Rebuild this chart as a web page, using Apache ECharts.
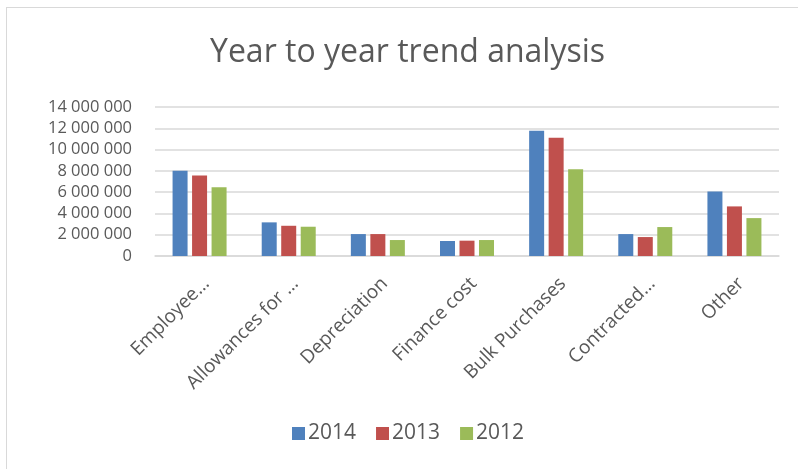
<!DOCTYPE html>
<html>
<head>
<meta charset="utf-8">
<script src="https://cdn.jsdelivr.net/npm/echarts@6/dist/echarts.min.js"></script>
<style>
html,body{margin:0;padding:0;background:#fff;}
#frame{position:absolute;left:6px;top:7px;width:820px;height:480px;border:1.5px solid #d9d9d9;box-sizing:border-box;}
#chart{position:absolute;left:0;top:0;width:798px;height:469px;}
</style>
</head>
<body>
<div id="frame"></div>
<div id="chart"></div>
<script>
const categories = ["Employee…", "Allowances for …", "Depreciation", "Finance cost", "Bulk Purchases", "Contracted…", "Other"];
const seriesNames = ["2014", "2013", "2012"];
const values2014 = [8000000, 3160000, 2060000, 1410000, 11780000, 2060000, 6060000];
const values2013 = [7560000, 2840000, 2060000, 1440000, 11120000, 1780000, 4660000];
const values2012 = [6470000, 2750000, 1500000, 1500000, 8160000, 2720000, 3560000];
const colors = ["#4F81BD", "#C0504D", "#9BBB59"];
const FONT = "Open Sans";

const chart = echarts.init(document.getElementById('chart'));
const allValues = [values2014, values2013, values2012];
chart.setOption({
  animation: false,
  color: colors,
  title: {
    text: "Year to year trend analysis",
    left: 205,
    top: 32,
    textStyle: {fontFamily: FONT, fontSize: 32, fontWeight: 'normal', color: '#595959'}
  },
  legend: {
    bottom: 20,
    left: 287,
    itemWidth: 13,
    itemHeight: 13,
    itemGap: 20,
    icon: 'rect',
    textStyle: {fontFamily: FONT, fontSize: 21, color: '#595959', padding: [0,0,0,-2]},
    data: seriesNames
  },
  grid: {left: 155, right: 19, top: 107, bottom: 213, containLabel: false},
  xAxis: {
    type: 'category',
    data: categories,
    axisTick: {show: false},
    axisLine: {lineStyle: {color: '#d9d9d9', width: 1.5}},
    axisLabel: {rotate: 45, interval: 0, margin: 18, verticalAlign: 'top', fontFamily: FONT, fontSize: 19, color: '#595959'}
  },
  yAxis: {
    type: 'value',
    min: 0,
    max: 14000000,
    interval: 2000000,
    axisLine: {show: false},
    axisTick: {show: false},
    splitLine: {lineStyle: {color: '#d9d9d9', width: 1.5}},
    axisLabel: {
      margin: 23,
      fontFamily: FONT, fontSize: 16.5, color: '#595959',
      formatter: v => String(v).replace(/\B(?=(\d{3})+(?!\d))/g, ' ')
    }
  },
  series: seriesNames.map((n, i) => ({
    name: n,
    type: 'bar',
    data: allValues[i],
    barWidth: 15,
    barGap: '30%',
    itemStyle: {color: colors[i]}
  }))
});
</script>
</body>
</html>
